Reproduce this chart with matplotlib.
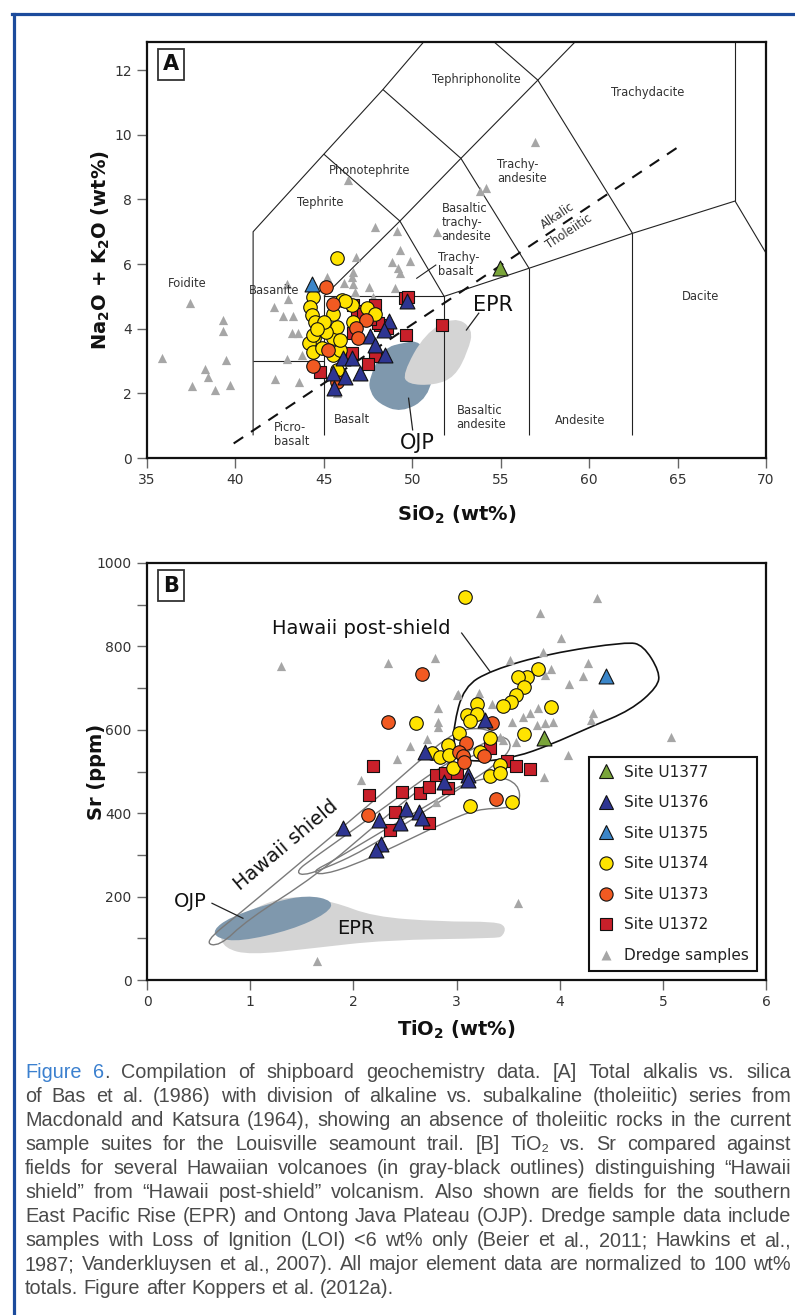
import numpy as np
import matplotlib
matplotlib.use("Agg")
import matplotlib.pyplot as plt
from matplotlib.path import Path
from matplotlib.patches import PathPatch
from matplotlib.lines import Line2D
from matplotlib.ticker import MultipleLocator
from matplotlib import font_manager

# ---------------- panel A : TAS (SiO2 vs Na2O+K2O) ----------------
a_u1377_x = [54.95]
a_u1377_y = [5.87]
a_u1375_x = [44.31]
a_u1375_y = [5.38]
a_u1376_x = [49.68, 48.70, 48.42, 47.60, 47.89, 48.43, 46.06, 46.57, 45.53, 46.19, 47.04, 45.58]
a_u1376_y = [4.87, 4.25, 3.95, 3.78, 3.51, 3.20, 3.09, 3.08, 2.63, 2.52, 2.62, 2.18]
a_u1374_x = [45.76, 44.37, 44.21, 44.31, 44.50, 44.46, 44.18, 44.40, 44.97, 44.87, 45.53, 45.72,
             45.53, 46.00, 46.57, 45.53, 45.90, 46.66, 47.42, 47.89, 45.72, 45.12, 45.90, 44.40,
             46.20, 45.00, 44.60]
a_u1374_y = [6.18, 4.99, 4.68, 4.42, 4.22, 3.70, 3.55, 3.29, 3.96, 3.39, 3.70, 4.06,
             4.47, 4.89, 4.73, 3.19, 3.34, 4.22, 4.63, 4.47, 2.72, 3.91, 3.65, 3.80,
             4.85, 4.20, 4.00]
a_u1373_x = [45.12, 45.53, 47.36, 46.81, 46.95, 45.25, 44.40, 45.72]
a_u1373_y = [5.30, 4.76, 4.27, 4.01, 3.72, 3.35, 2.85, 2.34]
a_u1372_x = [49.58, 49.75, 47.89, 46.66, 46.90, 48.17, 48.55, 49.64, 51.66, 47.89, 47.51, 44.78,
             46.57, 47.23, 48.08, 46.66, 47.60]
a_u1372_y = [4.94, 4.99, 4.73, 4.73, 4.55, 4.11, 4.01, 3.82, 4.11, 3.16, 2.90, 2.67,
             3.24, 4.47, 4.17, 3.86, 4.30]
a_dredge_x = [37.43, 35.83, 39.31, 39.28, 39.47, 38.28, 38.47, 37.56, 38.86, 39.71, 42.24, 43.61,
              42.90, 43.74, 42.20, 42.67, 43.24, 42.99, 42.90, 43.18, 43.55, 45.19, 46.81, 46.38,
              47.87, 49.13, 49.30, 48.83, 49.87, 49.21, 49.30, 46.66, 46.14, 46.59, 46.66, 46.76,
              47.57, 47.80, 49.00, 45.72, 56.93, 53.82, 54.16, 51.38]
a_dredge_y = [4.78, 3.08, 4.27, 3.94, 3.03, 2.74, 2.52, 2.23, 2.10, 2.26, 2.43, 2.34,
              3.06, 3.19, 4.68, 4.39, 4.39, 4.91, 5.38, 3.86, 3.88, 5.61, 6.23, 8.60,
              7.14, 7.03, 6.43, 6.07, 6.10, 5.87, 5.71, 5.76, 5.40, 5.61, 5.38, 5.14,
              5.30, 4.99, 5.25, 2.00, 9.78, 8.27, 8.34, 7.00]

# field outlines (SiO2, Na2O+K2O)
a_epr_x = [49.45, 50.70, 52.37, 53.45, 53.15, 52.40, 51.22, 49.75]
a_epr_y = [2.60, 3.85, 4.38, 4.00, 3.30, 2.50, 2.25, 2.28]
a_ojp_x = [47.55, 48.35, 49.60, 50.40, 51.30, 50.90, 49.37, 48.10, 47.60]
a_ojp_y = [2.45, 3.40, 3.58, 3.62, 2.95, 1.85, 1.40, 1.68, 2.05]

# TAS classification boundaries (Le Bas et al. 1986, as drawn)
tas_lines = [
    [(41, 0.7), (41, 7.0), (45, 9.4), (48.34, 11.4), (50.64, 12.87)],
    [(41, 3.0), (45, 3.0)],
    [(45, 0.7), (45, 5.0), (51.8, 5.0), (51.8, 0.7)],
    [(45, 5.0), (49.3, 7.33), (51.8, 5.0)],
    [(45, 9.4), (49.3, 7.33), (52.75, 9.27), (57.1, 11.69), (59.2, 12.87)],
    [(48.34, 11.4), (52.75, 9.27), (56.6, 5.87), (62.45, 6.95), (68.25, 7.95), (70.0, 6.34)],
    [(51.8, 5.0), (56.6, 5.87)],
    [(54.63, 12.87), (57.1, 11.69), (62.45, 6.95)],
    [(56.6, 0.7), (56.6, 5.87)],
    [(62.45, 0.7), (62.45, 6.95)],
    [(68.25, 7.95), (68.25, 12.87)],
]
mk_line_x = [39.9, 65.25]   # Macdonald & Katsura alkalic/tholeiitic divide
mk_line_y = [0.45, 9.70]

# ---------------- panel B : TiO2 vs Sr ----------------
b_u1377_x = [3.85]
b_u1377_y = [580]
b_u1375_x = [4.45]
b_u1375_y = [729]
b_u1376_x = [3.28, 2.69, 3.11, 3.11, 2.88, 2.51, 2.64, 2.67, 2.25, 2.45, 1.90, 2.27, 2.22]
b_u1376_y = [623, 547, 492, 480, 475, 409, 404, 388, 384, 376, 364, 326, 312]
b_u1374_x = [3.08, 3.79, 3.68, 3.60, 3.65, 3.58, 3.53, 3.45, 3.92, 3.20, 3.10, 3.20, 3.13, 2.61,
             3.02, 3.65, 3.32, 2.92, 2.76, 2.84, 2.93, 3.23, 2.97, 3.32, 3.42, 3.42, 3.13, 3.54]
b_u1374_y = [919, 745, 727, 726, 703, 683, 667, 658, 655, 663, 635, 638, 622, 617,
             592, 590, 580, 564, 544, 535, 540, 547, 508, 489, 516, 496, 417, 428]
b_u1373_x = [2.67, 2.34, 3.34, 3.09, 3.02, 3.06, 3.07, 3.27, 3.38, 2.14]
b_u1373_y = [733, 619, 617, 568, 547, 537, 522, 537, 433, 396]
b_u1372_x = [2.19, 2.15, 2.47, 2.65, 2.73, 2.80, 2.89, 2.92, 3.32, 3.49, 3.58, 3.71, 2.40, 2.36,
             2.73, 3.00]
b_u1372_y = [512, 444, 452, 448, 464, 492, 496, 460, 556, 524, 512, 505, 404, 359,
             377, 496]
b_dredge_x = [4.36, 3.81, 4.01, 1.30, 2.34, 2.79, 3.52, 3.84, 3.92, 3.86, 4.27, 4.23, 4.09, 4.32,
              4.30, 5.08, 4.08, 3.85, 3.60, 1.65, 3.01, 3.22, 3.34, 2.82, 2.82, 2.82, 3.54, 3.64,
              3.78, 3.86, 3.94, 2.71, 2.55, 2.42, 2.07, 3.42, 2.80, 3.45, 3.58, 3.71, 3.79, 3.00]
b_dredge_y = [915, 879, 819, 753, 760, 771, 767, 787, 747, 731, 761, 729, 711, 640,
              623, 583, 540, 488, 184, 46, 686, 689, 663, 652, 619, 606, 619, 631,
              611, 616, 618, 577, 561, 529, 480, 583, 428, 576, 571, 640, 652, 683]

# field outlines (TiO2, Sr)
post_shield_x = [2.98, 2.97, 3.07, 3.34, 3.90, 4.65, 4.81, 4.97, 4.95, 4.69, 4.30, 3.90, 3.58, 3.26, 3.00]
post_shield_y = [560, 607, 703, 743, 783, 811, 803, 739, 703, 647, 607, 563, 535, 523, 530]
shield1_x = [0.55, 0.90, 1.60, 2.20, 2.65, 2.90, 3.10, 3.35, 3.40, 3.00, 2.84, 2.30, 1.64, 0.97, 0.70]
shield1_y = [90, 160, 305, 430, 528, 580, 605, 600, 565, 520, 496, 390, 250, 144, 80]
shield2_x = [1.45, 1.60, 2.00, 2.50, 2.90, 3.20, 3.45, 3.55, 3.40, 3.10, 2.60, 2.10, 1.70, 1.50]
shield2_y = [262, 290, 360, 450, 520, 560, 590, 560, 520, 470, 390, 310, 265, 250]
shield3_x = [1.60, 1.80, 2.30, 2.80, 3.05, 3.40, 3.60, 3.62, 3.50, 3.20, 2.90, 2.40, 2.00, 1.70]
shield3_y = [260, 285, 360, 430, 470, 490, 470, 425, 412, 410, 380, 320, 275, 252]
b_ojp_x = [0.64, 0.80, 1.20, 1.55, 1.81, 1.75, 1.40, 0.90, 0.68]
b_ojp_y = [120, 150, 185, 204, 190, 160, 120, 92, 100]
b_epr_x = [0.70, 1.00, 1.39, 1.81, 2.19, 2.84, 3.38, 3.48, 3.45, 3.38, 2.31, 1.60, 1.00, 0.75]
b_epr_y = [112, 170, 204, 188, 152, 140, 140, 128, 105, 100, 96, 76, 60, 76]

caption_lines = [
    "Figure 6. Compilation of shipboard geochemistry data. [A] Total alkalis vs. silica",
    "of Bas et al. (1986) with division of alkaline vs. subalkaline (tholeiitic) series from",
    "Macdonald and Katsura (1964), showing an absence of tholeiitic rocks in the current",
    "sample suites for the Louisville seamount trail. [B] TiO\u2082 vs. Sr compared against",
    "fields for several Hawaiian volcanoes (in gray-black outlines) distinguishing \u201cHawaii",
    "shield\u201d from \u201cHawaii post-shield\u201d volcanism. Also shown are fields for the southern",
    "East Pacific Rise (EPR) and Ontong Java Plateau (OJP). Dredge sample data include",
    "samples with Loss of Ignition (LOI) <6 wt% only (Beier et al., 2011; Hawkins et al.,",
    "1987; Vanderkluysen et al., 2007). All major element data are normalized to 100 wt%",
    "totals. Figure after Koppers et al. (2012a).",
]

# ---------------- styles ----------------
C_GREEN = "#7aa53a"
C_DBLUE = "#2e3592"
C_LBLUE = "#3b86c9"
C_YELLOW = "#ffe400"
C_ORANGE = "#f15a22"
C_RED = "#c8202a"
C_GRAY = "#a6a6a6"
C_OJP = "#7f98ad"
C_EPR = "#d4d4d4"
TXT = "#333333"

plt.rcParams["font.family"] = ["DejaVu Sans"]
plt.rcParams["mathtext.fontset"] = "dejavusans"

names = {f.name for f in font_manager.fontManager.ttflist}
cap_family = next((n for n in ["Liberation Sans", "Roboto", "Noto Sans"] if n in names), "DejaVu Sans")

W, H = 795, 1315
fig = plt.figure(figsize=(W / 100, H / 100), dpi=100)


def smooth_field(ax, xs, ys, **kw):
    # closed quadratic bezier through midpoints of the outline vertices
    pts = np.column_stack([xs, ys])
    mids = (pts + np.roll(pts, -1, axis=0)) / 2
    verts = [mids[-1]]
    codes = [Path.MOVETO]
    for i in range(len(pts)):
        verts += [pts[i], mids[i]]
        codes += [Path.CURVE3, Path.CURVE3]
    ax.add_patch(PathPatch(Path(verts, codes), **kw))


def style_axes(ax):
    for s in ax.spines.values():
        s.set_linewidth(1.6)
        s.set_color("#111111")
    ax.tick_params(which="both", direction="out", length=7, width=1, color="#666666",
                   labelcolor=TXT, labelsize=10, pad=4)


def panel_tag(ax, letter):
    ax.text(0.039, 0.946, letter, transform=ax.transAxes, ha="center", va="center",
            fontsize=15, fontweight="bold", color="#111111", zorder=20,
            bbox=dict(boxstyle="square,pad=0.25", fc="white", ec="#333333", lw=1.3))


def sites(ax, d, big=1.0):
    ax.scatter(d["dredge"][0], d["dredge"][1], marker="^", s=44 * big, c=C_GRAY, lw=0, zorder=4)
    ax.scatter(d["u1372"][0], d["u1372"][1], marker="s", s=78 * big, c=C_RED, ec="#111111", lw=0.8, zorder=5)
    ax.scatter(d["u1374"][0], d["u1374"][1], marker="o", s=95 * big, c=C_YELLOW, ec="#111111", lw=0.8, zorder=6)
    ax.scatter(d["u1373"][0], d["u1373"][1], marker="o", s=95 * big, c=C_ORANGE, ec="#111111", lw=0.8, zorder=7)
    ax.scatter(d["u1376"][0], d["u1376"][1], marker="^", s=115 * big, c=C_DBLUE, ec="#111111", lw=0.8, zorder=8)
    ax.scatter(d["u1375"][0], d["u1375"][1], marker="^", s=115 * big, c=C_LBLUE, ec="#111111", lw=0.8, zorder=8)
    ax.scatter(d["u1377"][0], d["u1377"][1], marker="^", s=115 * big, c=C_GREEN, ec="#111111", lw=0.8, zorder=8)


# ---------------- panel A ----------------
axA = fig.add_axes([147 / W, 1 - 458 / H, 619 / W, 416 / H])
axA.set_xlim(35, 70)
axA.set_ylim(0, 12.87)
axA.xaxis.set_major_locator(MultipleLocator(5))
axA.yaxis.set_major_locator(MultipleLocator(2))
style_axes(axA)

for seg in tas_lines:
    xs, ys = zip(*seg)
    axA.plot(xs, ys, color="#222222", lw=0.8, zorder=2, solid_capstyle="butt")
axA.plot(mk_line_x, mk_line_y, color="#111111", lw=1.5, ls=(0, (5.5, 4.5)), zorder=3)

smooth_field(axA, a_ojp_x, a_ojp_y, fc=C_OJP, ec="none", zorder=1)
smooth_field(axA, a_epr_x, a_epr_y, fc=C_EPR, ec="none", zorder=1.5)

sites(axA, {"dredge": (a_dredge_x, a_dredge_y), "u1372": (a_u1372_x, a_u1372_y),
            "u1374": (a_u1374_x, a_u1374_y), "u1373": (a_u1373_x, a_u1373_y),
            "u1376": (a_u1376_x, a_u1376_y), "u1375": (a_u1375_x, a_u1375_y),
            "u1377": (a_u1377_x, a_u1377_y)})

rock = dict(fontsize=8.3, color=TXT, zorder=9)
axA.text(37.3, 5.4, "Foidite", ha="center", va="center", **rock)
axA.text(42.2, 5.17, "Basanite", ha="center", va="center", **rock)
axA.text(44.8, 7.9, "Tephrite", ha="center", va="center", **rock)
axA.text(47.6, 8.9, "Phonotephrite", ha="center", va="center", **rock)
axA.text(53.65, 11.72, "Tephriphonolite", ha="center", va="center", **rock)
axA.text(63.3, 11.3, "Trachydacite", ha="center", va="center", **rock)
axA.text(54.8, 8.85, "Trachy-\nandesite", ha="left", va="center", linespacing=1.1, **rock)
axA.text(51.65, 7.3, "Basaltic\ntrachy-\nandesite", ha="left", va="center", linespacing=1.1, **rock)
axA.text(51.45, 5.98, "Trachy-\nbasalt", ha="left", va="center", linespacing=1.1, **rock)
axA.text(66.3, 5.0, "Dacite", ha="center", va="center", **rock)
axA.text(59.5, 1.17, "Andesite", ha="center", va="center", **rock)
axA.text(52.5, 1.24, "Basaltic\nandesite", ha="left", va="center", linespacing=1.1, **rock)
axA.text(46.6, 1.2, "Basalt", ha="center", va="center", **rock)
axA.text(42.2, 0.74, "Picro-\nbasalt", ha="left", va="center", linespacing=1.1, **rock)
axA.text(58.2, 7.5, "Alkalic", ha="center", va="center", rotation=33.5, rotation_mode="anchor", **rock)
axA.text(58.85, 7.0, "Tholeiitic", ha="center", va="center", rotation=33.5, rotation_mode="anchor", **rock)
axA.plot([50.25, 51.33], [5.56, 5.97], color="#222222", lw=0.8, zorder=9)

axA.text(54.55, 4.73, "EPR", ha="center", va="center", fontsize=15, color="#111111", zorder=9)
axA.plot([53.06, 53.76], [3.96, 4.48], color="#222222", lw=0.9, zorder=9)
axA.text(50.3, 0.45, "OJP", ha="center", va="center", fontsize=15, color="#111111", zorder=9)
axA.plot([49.79, 50.02], [1.85, 0.87], color="#222222", lw=0.9, zorder=9)

axA.set_xlabel("SiO$_\\mathbf{2}$ (wt%)", fontsize=14, fontweight="bold", color="#111111")
axA.xaxis.set_label_coords(0.5, -0.137)
axA.xaxis.label.set_va("center")
axA.set_ylabel("Na$_\\mathbf{2}$O + K$_\\mathbf{2}$O (wt%)", fontsize=14, fontweight="bold", color="#111111")
axA.yaxis.set_label_coords(-0.074, 0.5)
axA.yaxis.label.set_va("center")
panel_tag(axA, "A")

# ---------------- panel B ----------------
axB = fig.add_axes([147 / W, 1 - 980 / H, 619 / W, 417 / H])
axB.set_xlim(0, 6)
axB.set_ylim(0, 1000)
axB.xaxis.set_major_locator(MultipleLocator(1))
axB.yaxis.set_major_locator(MultipleLocator(200))
axB.yaxis.set_minor_locator(MultipleLocator(100))
style_axes(axB)

smooth_field(axB, b_epr_x, b_epr_y, fc=C_EPR, ec="none", zorder=1)
smooth_field(axB, b_ojp_x, b_ojp_y, fc=C_OJP, ec="none", zorder=1.5)
for sx, sy in [(shield1_x, shield1_y), (shield2_x, shield2_y), (shield3_x, shield3_y)]:
    smooth_field(axB, sx, sy, fc="none", ec="#7a7a7a", lw=1.0, zorder=2)
smooth_field(axB, post_shield_x, post_shield_y, fc="none", ec="#111111", lw=1.2, zorder=3)

sites(axB, {"dredge": (b_dredge_x, b_dredge_y), "u1372": (b_u1372_x, b_u1372_y),
            "u1374": (b_u1374_x, b_u1374_y), "u1373": (b_u1373_x, b_u1373_y),
            "u1376": (b_u1376_x, b_u1376_y), "u1375": (b_u1375_x, b_u1375_y),
            "u1377": (b_u1377_x, b_u1377_y)})

axB.text(2.08, 844, "Hawaii post-shield", ha="center", va="center", fontsize=14, color="#111111", zorder=9)
axB.plot([3.05, 3.33], [832, 738], color="#222222", lw=0.9, zorder=9)
axB.text(1.35, 324, "Hawaii shield", ha="center", va="center", fontsize=14, color="#111111",
         rotation=40, rotation_mode="anchor", zorder=9)
axB.text(0.42, 188, "OJP", ha="center", va="center", fontsize=14, color="#111111", zorder=9)
axB.plot([0.63, 0.93], [184, 148], color="#222222", lw=0.9, zorder=9)
axB.text(2.02, 124, "EPR", ha="center", va="center", fontsize=14, color="#111111", zorder=9)

axB.set_xlabel("TiO$_\\mathbf{2}$ (wt%)", fontsize=14, fontweight="bold", color="#111111")
axB.xaxis.set_label_coords(0.5, -0.12)
axB.xaxis.label.set_va("center")
axB.set_ylabel("Sr (ppm)", fontsize=14, fontweight="bold", color="#111111")
axB.yaxis.set_label_coords(-0.082, 0.5)
axB.yaxis.label.set_va("center")
panel_tag(axB, "B")

handles = [
    Line2D([], [], ls="none", marker="^", ms=10, mfc=C_GREEN, mec="#111111", mew=0.8),
    Line2D([], [], ls="none", marker="^", ms=10, mfc=C_DBLUE, mec="#111111", mew=0.8),
    Line2D([], [], ls="none", marker="^", ms=10, mfc=C_LBLUE, mec="#111111", mew=0.8),
    Line2D([], [], ls="none", marker="o", ms=9.5, mfc=C_YELLOW, mec="#111111", mew=0.8),
    Line2D([], [], ls="none", marker="o", ms=9.5, mfc=C_ORANGE, mec="#111111", mew=0.8),
    Line2D([], [], ls="none", marker="s", ms=8.5, mfc=C_RED, mec="#111111", mew=0.8),
    Line2D([], [], ls="none", marker="^", ms=6.5, mfc=C_GRAY, mec="none"),
]
labels = ["Site U1377", "Site U1376", "Site U1375", "Site U1374", "Site U1373", "Site U1372",
          "Dredge samples"]
leg = axB.legend(handles, labels, loc="upper right", bbox_to_anchor=(0.985, 0.535),
                 borderaxespad=0, fontsize=11, labelspacing=1.02, handletextpad=0.6,
                 handlelength=1.2, borderpad=0.5, fancybox=False, framealpha=1,
                 edgecolor="#111111")
leg.get_frame().set_linewidth(1.5)
for t in leg.get_texts():
    t.set_color("#222222")
leg.set_zorder(12)

# ---------------- blue frame ----------------
fig.add_artist(Line2D([13.5 / W, 13.5 / W], [0, 1 - 13.5 / H], color="#1c4b9c", lw=2.3))
fig.add_artist(Line2D([12.3 / W, 1], [1 - 14.2 / H, 1 - 14.2 / H], color="#1c4b9c", lw=2.3))

# ---------------- caption (justified) ----------------
renderer = fig.canvas.get_renderer()
x_left, x_right = 25, 791
base0, step = 1077.5, 24.1
cap_fam = [cap_family, "DejaVu Sans"]


def text_width(s, size):
    t = fig.text(0, 0, s, fontsize=size, family=cap_fam)
    w = t.get_window_extent(renderer=renderer).width
    t.remove()
    return w


# pick a size so the longest line nearly fills the column with ordinary word gaps
longest = max(text_width(l, 12) for l in caption_lines[:-1])
cap_size = 12 * (x_right - x_left) * 0.985 / longest

for i, line in enumerate(caption_lines):
    words = line.split(" ")
    pieces = []
    for j, wd in enumerate(words):
        if i == 0 and j == 0:
            pieces.append([(wd, "#3b80cf")])
        elif i == 0 and j == 1:
            pieces.append([("6", "#3b80cf"), (".", "#4a4a4a")])
        else:
            pieces.append([(wd, "#4a4a4a")])
    widths = [[text_width(s, cap_size) for s, _ in p] for p in pieces]
    total = sum(sum(w) for w in widths)
    last = i == len(caption_lines) - 1
    gap = text_width("a a", cap_size) - text_width("aa", cap_size) if last else \
        (x_right - x_left - total) / (len(words) - 1)
    x = x_left
    yb = 1 - (base0 + i * step) / H
    for p, ws in zip(pieces, widths):
        for (s, c), w in zip(p, ws):
            fig.text(x / W, yb, s, fontsize=cap_size, color=c, ha="left", va="baseline",
                     family=cap_fam)
            x += w
        x += gap

fig.savefig("out.png", dpi=100)
